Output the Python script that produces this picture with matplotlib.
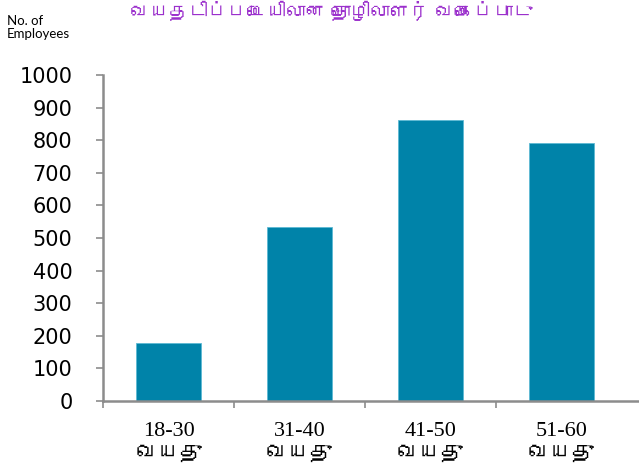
import numpy as np
import matplotlib
matplotlib.use('Agg')
import matplotlib.pyplot as plt
from matplotlib import font_manager
from matplotlib.ft2font import FT2Font

# data
age_groups = ['18-30', '31-40', '41-50', '51-60']
age_suffix = 'வயது'
employees = [178, 533, 861, 790]
title_text = 'வயதடிப்படையிலான தொழிலாளர் வகைப்பாடு'
ylabel_text = 'No. of\nEmployees'
y_ticks = [0, 100, 200, 300, 400, 500, 600, 700, 800, 900, 1000]


def find_tamil_font():
    # look for any installed font that covers the Tamil block
    for f in font_manager.fontManager.ttflist:
        try:
            ft = FT2Font(f.fname)
            if ft.get_char_index(0x0BB5) and ft.get_char_index(0x0BA4):
                return f.name
        except Exception:
            continue
    return None


tamil = find_tamil_font()
fams_sans = ['DejaVu Sans'] + ([tamil] if tamil else [])
fams_serif = ['Liberation Serif'] + ([tamil] if tamil else [])

fig = plt.figure(figsize=(6.39, 4.69), dpi=100)
ax = fig.add_axes([103 / 639, 68 / 469, 537 / 639, 326 / 469])

x = np.arange(len(age_groups))
ax.bar(x, employees, width=0.5, color='#0083A9', edgecolor='#5DB9D3',
       linewidth=0.6, zorder=2)

ax.set_xlim(-0.5, 3.6)
ax.set_ylim(0, 1000)

for s in ['top', 'right']:
    ax.spines[s].set_visible(False)
for s in ['left', 'bottom']:
    ax.spines[s].set_color('#8C8C8C')
    ax.spines[s].set_linewidth(1.8)

ax.set_yticks(y_ticks)
ax.set_yticklabels([str(v) for v in y_ticks], fontsize=15, family='DejaVu Sans')
ax.tick_params(axis='y', direction='out', length=5, width=1.2, color='#8C8C8C', pad=17)

# category boundaries carry the tick marks, labels sit in the middle
ax.set_xticks(np.arange(-0.5, 3.0, 1.0), minor=True)
ax.set_xticks(x)
ax.set_xticklabels([f'{g}\n{age_suffix}' for g in age_groups], fontsize=16,
                   family=fams_serif, linespacing=1.3)
ax.tick_params(axis='x', which='major', length=0, pad=15)
ax.tick_params(axis='x', which='minor', direction='out', length=5, width=1.2,
               color='#8C8C8C')

fig.text(331 / 639, 1 - 12 / 469, title_text, ha='center', va='center',
         fontsize=14, color='#9B30CC', family=fams_sans)
fig.text(7 / 639, 1 - 15 / 469, ylabel_text, ha='left', va='top',
         fontsize=9.5, family='Lato', linespacing=1.1)

fig.savefig('out.png', dpi=100)
